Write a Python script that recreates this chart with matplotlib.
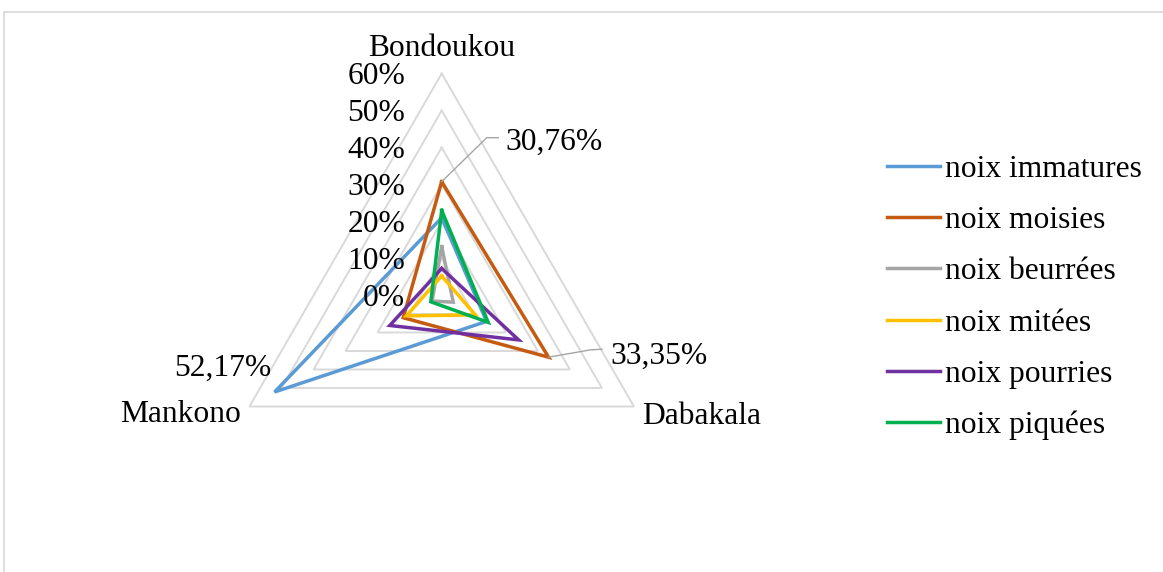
import numpy as np
import matplotlib
matplotlib.use("Agg")
import matplotlib.pyplot as plt
from matplotlib.lines import Line2D

plt.rcParams['font.family'] = ['Liberation Serif', 'DejaVu Serif']

# Regions (radar spokes) and series values in percent
regions = ["Bondoukou", "Dabakala", "Mankono"]
series_names = ["noix immatures", "noix moisies", "noix beurrées",
                "noix mitées", "noix pourries", "noix piquées"]
immatures = [21.0, 14.0, 52.17]
moisies = [30.76, 33.35, 12.0]
beurrees = [13.2, 3.6, 3.0]
mitees = [5.3, 10.5, 11.0]
pourries = [7.3, 24.0, 16.2]
piquees = [23.0, 14.5, 3.4]
series_values = [immatures, moisies, beurrees, mitees, pourries, piquees]
colors = ["#5B9BD5", "#C55A11", "#A5A5A5", "#FFC000", "#7030A0", "#00B050"]
grid_levels = [0, 10, 20, 30, 40, 50, 60]
tick_labels = ["0%", "10%", "20%", "30%", "40%", "50%", "60%"]

# Data labels shown on the chart: (series index, region index, text)
point_labels = [(1, 0, "30,76%"), (1, 1, "33,35%"), (0, 2, "52,17%")]

W, H, DPI = 1163, 572, 100
FS = 22.7
TEXT_DY = -3.0                 # pixel nudge so glyphs sit on their centre line
fig = plt.figure(figsize=(W / DPI, H / DPI), dpi=DPI)

# Axes spanning the whole figure, equal scale in both directions
cx, cy = 441.7, 295.5          # centre of radar in pixels
ppu = 3.7                      # pixels per percent
ax = fig.add_axes([0, 0, 1, 1])
ax.set_xlim(-cx / ppu, (W - cx) / ppu)
ax.set_ylim(-(H - cy) / ppu, cy / ppu)
ax.axis("off")

angles = np.deg2rad([90, -30, 210])


def to_xy(values):
    v = np.asarray(values, dtype=float)
    return v * np.cos(angles), v * np.sin(angles)


dy_txt = TEXT_DY / ppu

# Triangular grid
for lvl in grid_levels[1:]:
    gx, gy = to_xy([lvl] * 3)
    ax.plot(np.append(gx, gx[0]), np.append(gy, gy[0]),
            color="#D9D9D9", lw=1.4, zorder=1, solid_joinstyle="miter")

# Radial tick labels along the top spoke
for lvl, lab in zip(grid_levels, tick_labels):
    ax.text(-36.5 / ppu, lvl + dy_txt, lab, ha="right", va="center",
            fontsize=FS, color="#000000", zorder=5)

# Series polygons
for name, vals, col in zip(series_names, series_values, colors):
    px, py = to_xy(vals)
    ax.plot(np.append(px, px[0]), np.append(py, py[0]), color=col,
            lw=2.5, label=name, zorder=3, solid_joinstyle="miter")

# Region labels
bx, by = to_xy([60] * 3)
ax.text(bx[0], by[0] + 27.5 / ppu + dy_txt, regions[0], ha="center", va="center", fontsize=FS)
ax.text(bx[1] + 8 / ppu, by[1] - 6.5 / ppu + dy_txt, regions[1], ha="left", va="center", fontsize=FS)
ax.text(bx[2] - 8 / ppu, by[2] - 5 / ppu + dy_txt, regions[2], ha="right", va="center", fontsize=FS)

# Data labels with leader lines (offsets in pixels from the point)
label_layout = {
    "30,76%": dict(path=[(45, 44), (56.6, 44)], text=(64, 42.3), ha="left"),
    "33,35%": dict(path=[(41.7, 7.3), (53.4, 8)], text=(61.7, 4), ha="left"),
    "52,17%": dict(path=[], text=(-3, 27), ha="right"),
}
for si, ri, txt in point_labels:
    vx, vy = to_xy(series_values[si])
    x0, y0 = vx[ri], vy[ri]
    lay = label_layout[txt]
    if lay["path"]:
        xs = [x0] + [x0 + dx / ppu for dx, dy in lay["path"]]
        ys = [y0] + [y0 + dy / ppu for dx, dy in lay["path"]]
        ax.plot(xs, ys, color="#A5A5A5", lw=1.0, zorder=4)
    tx, ty = lay["text"]
    ax.text(x0 + tx / ppu, y0 + ty / ppu + dy_txt, txt, ha=lay["ha"], va="center",
            fontsize=FS, zorder=5)

# Legend
ax.legend(loc="center left", bbox_to_anchor=(887 / W, 1 - 297.7 / H),
          bbox_transform=fig.transFigure, frameon=False, fontsize=FS,
          handlelength=1.68, handletextpad=0.16, labelspacing=0.70,
          borderpad=0, borderaxespad=0)

# Chart area border (top and left edges visible)
fig.add_artist(Line2D([3.5 / W, 1.0], [1 - 12 / H, 1 - 12 / H],
                      transform=fig.transFigure, color="#D9D9D9", lw=1.2))
fig.add_artist(Line2D([3.5 / W, 3.5 / W], [0, 1 - 12 / H],
                      transform=fig.transFigure, color="#D9D9D9", lw=1.2))

fig.savefig("out.png", dpi=DPI, facecolor="white")
